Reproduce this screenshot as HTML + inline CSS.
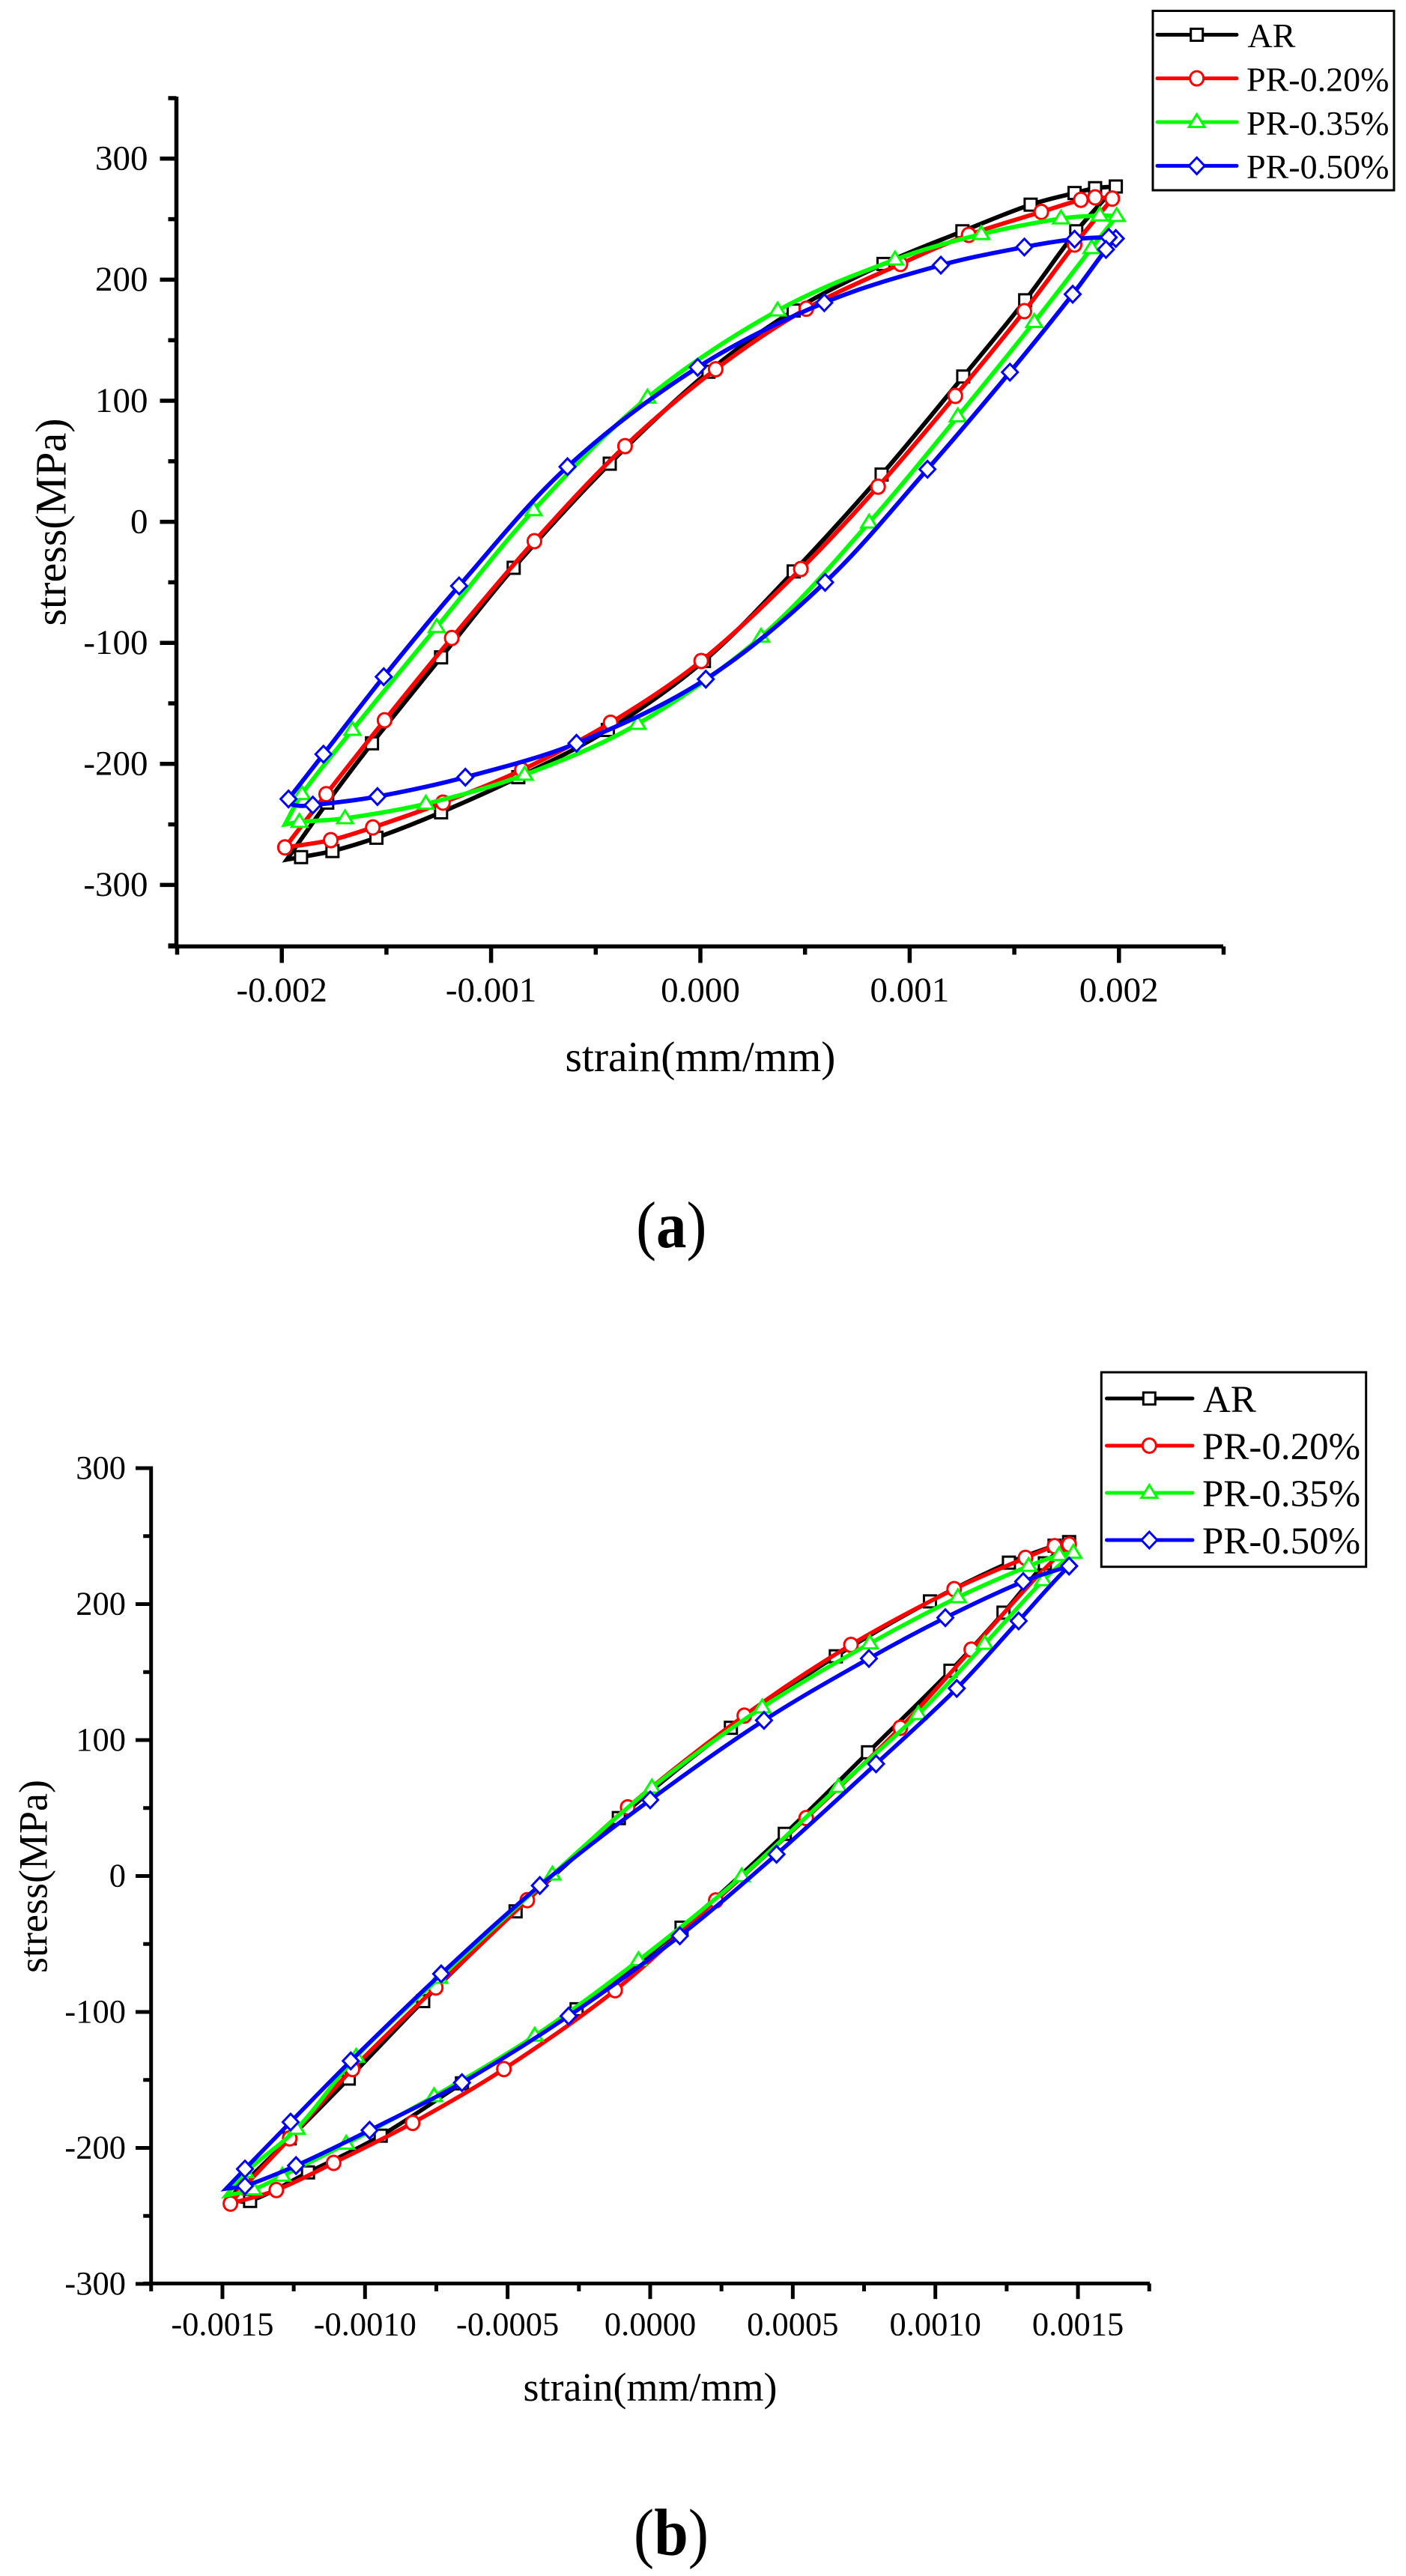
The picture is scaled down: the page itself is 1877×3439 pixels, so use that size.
<!DOCTYPE html>
<html lang="en">
<head>
<meta charset="utf-8">
<title>Stress-strain hysteresis loops</title>
<style>
html,body{margin:0;padding:0;background:#fff;}
svg{display:block;}
text{font-family:"Liberation Serif",serif;fill:#000;}
</style>
</head>
<body>
<svg id="figure" xmlns="http://www.w3.org/2000/svg" width="1877" height="3439" viewBox="0 0 1877 3439">
  <rect x="0" y="0" width="1877" height="3439" fill="#fff"/>

  <g id="plot-a">
    <text x="935" y="1430" font-size="57.5" text-anchor="middle">strain(mm/mm)</text>
    <text transform="translate(87.3,697) rotate(-90)" font-size="58" text-anchor="middle">stress(MPa)</text>
    <g id="legend-a">
      <rect x="1539" y="14.5" width="322" height="239.5" fill="#fff" stroke="#000" stroke-width="3"/>
      <text x="1665.5" y="63" font-size="46">AR</text>
      <text x="1664" y="121.5" font-size="46">PR-0.20%</text>
      <text x="1664" y="180" font-size="46">PR-0.35%</text>
      <text x="1664" y="238" font-size="46">PR-0.50%</text>
    </g>
  </g>
  <text transform="translate(896.3,1665) scale(1,1.08)" font-size="81" text-anchor="middle">(<tspan font-weight="bold">a</tspan>)</text>

  <g id="plot-b">
    <text x="868" y="3205" font-size="54" text-anchor="middle">strain(mm/mm)</text>
    <text transform="translate(62.3,2505) rotate(-90)" font-size="54" text-anchor="middle">stress(MPa)</text>
    <g id="legend-b">
      <rect x="1470.3" y="1832" width="353.4" height="259.7" fill="#fff" stroke="#000" stroke-width="3"/>
      <text x="1606" y="1885" font-size="51">AR</text>
      <text x="1605" y="1948" font-size="51">PR-0.20%</text>
      <text x="1605" y="2011" font-size="51">PR-0.35%</text>
      <text x="1605" y="2074" font-size="51">PR-0.50%</text>
    </g>
  </g>
  <text transform="translate(896,3411) scale(1,1.08)" font-size="82" text-anchor="middle">(<tspan font-weight="bold">b</tspan>)</text>
</svg>

<script>
// ---------- Chart (a) data ----------
const aXTickValues = [-0.002, -0.001, 0, 0.001, 0.002];
const aXTickLabels = ['-0.002', '-0.001', '0.000', '0.001', '0.002'];
const aXMinorValues = [-0.0025, -0.0015, -0.0005, 0.0005, 0.0015, 0.0025];
const aYTickValues = [-300, -200, -100, 0, 100, 200, 300];
const aYTickLabels = ['-300', '-200', '-100', '0', '100', '200', '300'];
const aYMinorValues = [-350, -250, -150, -50, 50, 150, 250, 350];

const aArStrain = [0.001985,0.001886,0.001788,0.001578,0.001252,0.000875,0.000446,0.000039,-0.000433,-0.000892,-0.001239,-0.001569,-0.001783,-0.001976,-0.001908,-0.001758,-0.001548,-0.001239,-0.000870,-0.000442,0.000017,0.000446,0.000866,0.001256,0.001552,0.001796,0.001985];
const aArStress = [277,275.6,271.6,262,240,213,174.5,124,48,-38,-112,-183,-232,-279,-277,-272,-261,-240,-211,-172,-115,-41,39,120,183,240,277];
const aArHidden = [13,26];

const aPr20Strain = [0.001968,0.001886,0.001818,0.001629,0.001282,0.000956,0.000506,0.000073,-0.000360,-0.000793,-0.001188,-0.001509,-0.001788,-0.001985,-0.001766,-0.001565,-0.001230,-0.000853,-0.000429,0.000004,0.000480,0.000849,0.001218,0.001548,0.001788,0.001968];
const aPr20Stress = [267,268,266,256,237,213,176,126,62.5,-16,-96,-164,-225,-269,-263,-252.5,-232,-205,-166,-115,-39,29,104,174,229,267];
const aPr20Hidden = [25];

const aPr35Strain = [0.001989,0.001908,0.001723,0.001342,0.000930,0.000369,-0.000253,-0.000797,-0.001260,-0.001663,-0.001904,-0.001985,-0.001916,-0.001698,-0.001312,-0.000840,-0.000300,0.000290,0.000806,0.001230,0.001595,0.001869,0.001989];
const aPr35Stress = [252.5,253,250.5,237.6,216.6,174.5,102.5,9.5,-87,-172,-225,-250,-248,-245,-233,-209,-167,-95,-0.7,87,165,226,252.5];
const aPr35Hidden = [11,22];

const aPr50Strain = [0.001985,0.001951,0.001788,0.001548,0.001149,0.000592,-0.000013,-0.000635,-0.001153,-0.001513,-0.001801,-0.001968,-0.001944,-0.001852,-0.001543,-0.001123,-0.000592,0.000026,0.000596,0.001085,0.001479,0.001779,0.001938,0.001985];
const aPr50Stress = [234,235,233.5,227,212,181,127.6,45.5,-53,-128,-192,-229,-234,-234,-227,-211,-183,-130,-50,43.4,123.6,188,225,234];
const aPr50Hidden = [12,23];

// ---------- Chart (b) data ----------
const bXTickValues = [-0.0015, -0.001, -0.0005, 0, 0.0005, 0.001, 0.0015];
const bXTickLabels = ['-0.0015', '-0.0010', '-0.0005', '0.0000', '0.0005', '0.0010', '0.0015'];
const bXMinorValues = [-0.00175, -0.00125, -0.00075, -0.00025, 0.00025, 0.00075, 0.00125, 0.00175];
const bYTickValues = [-300, -200, -100, 0, 100, 200, 300];
const bYTickLabels = ['-300', '-200', '-100', '0', '100', '200', '300'];
const bYMinorValues = [-250, -150, -50, 50, 150, 250];

const bArStrain = [0.001469,0.001418,0.001258,0.000981,0.000651,0.000283,-0.000110,-0.000472,-0.000796,-0.001057,-0.001264,-0.001425,-0.001480,-0.001403,-0.001200,-0.000945,-0.000660,-0.000258,0.000110,0.000472,0.000764,0.001053,0.001239,0.001384,0.001469];
const bArStress = [245.6,243,230.5,202,161.6,109,42.6,-26,-92,-149,-193,-226,-238,-239,-218,-191,-152.5,-98,-38,31,91,151,193.7,230,245.6];
const bArHidden = [12,24];

const bPr20Strain = [0.001469,0.001418,0.001316,0.001066,0.000704,0.000330,-0.000079,-0.000431,-0.000752,-0.001044,-0.001264,-0.001425,-0.001472,-0.001311,-0.001110,-0.000833,-0.000513,-0.000123,0.000230,0.000547,0.000877,0.001126,0.001342,0.001469];
const bPr20Stress = [243.8,242.6,234,211,170,118,50.5,-17.8,-82,-142,-193,-229,-241,-231,-211,-181.6,-142,-84,-18,42.6,109,166.5,217,243.8];
const bPr20Hidden = [22,23];

const bPr35Strain = [0.001484,0.001434,0.001327,0.001079,0.000770,0.000393,0.000006,-0.000343,-0.000740,-0.001031,-0.001240,-0.001420,-0.001487,-0.001392,-0.001290,-0.001066,-0.000758,-0.000405,-0.000041,0.000321,0.000660,0.000940,0.001173,0.001378,0.001484];
const bPr35Stress = [237.7,236,228,205,171,124,65,1,-75,-133,-186,-218,-235,-230.6,-220.5,-197,-162,-117.5,-62,-0.3,65.5,119,170.7,217.5,237.7];
const bPr35Hidden = [12,24];

const bPr50Strain = [0.001469,0.001308,0.001035,0.000767,0.000399,0,-0.000387,-0.000733,-0.001050,-0.001261,-0.001421,-0.001487,-0.001421,-0.001242,-0.000984,-0.000660,-0.000286,0.000104,0.000443,0.000792,0.001075,0.001292,0.001469,0.001490];
const bPr50Stress = [228,216.6,190,160,114.5,56,-7,-72,-136,-181,-215.5,-230,-228,-213,-187,-152,-103,-44,16,82.5,138,187.6,228,228];
const bPr50Hidden = [11,23];

// ---------- Drawing ----------
const SVG_NS = 'http://www.w3.org/2000/svg';

function make(parent, tag, attrs) {
  const el = document.createElementNS(SVG_NS, tag);
  for (const k in attrs) el.setAttribute(k, attrs[k]);
  parent.appendChild(el);
  return el;
}

function drawMarker(parent, kind, color, px, py, name) {
  const style = {fill: '#fff', stroke: color, 'stroke-width': 3};
  let el;
  if (kind === 'square') {
    el = make(parent, 'rect', Object.assign({x: px - 8, y: py - 8, width: 16, height: 16}, style));
  } else if (kind === 'circle') {
    el = make(parent, 'ellipse', Object.assign({cx: px, cy: py, rx: 9, ry: 9.5}, style));
  } else if (kind === 'triangle') {
    el = make(parent, 'path', Object.assign({d: 'M' + px + ' ' + (py - 10.5) + 'L' + (px + 10.5) + ' ' + (py + 6.5) + 'L' + (px - 10.5) + ' ' + (py + 6.5) + 'Z'}, style));
  } else {
    el = make(parent, 'path', Object.assign({d: 'M' + px + ' ' + (py - 11) + 'L' + (px + 10.5) + ' ' + py + 'L' + px + ' ' + (py + 11) + 'L' + (px - 10.5) + ' ' + py + 'Z'}, style));
  }
  
  
}

function splinePath(pts) {
  if (pts.length < 2) return '';
  const tangent = function (i) {
    const a = pts[Math.max(i - 1, 0)];
    const b = pts[Math.min(i + 1, pts.length - 1)];
    const dx = b[0] - a[0], dy = b[1] - a[1];
    const len = Math.hypot(dx, dy) || 1;
    return [dx / len, dy / len];
  };
  let d = '';
  for (let i = 0; i < pts.length - 1; i++) {
    const p = pts[i], q = pts[i + 1];
    const dist = Math.hypot(q[0] - p[0], q[1] - p[1]);
    const t0 = tangent(i), t1 = tangent(i + 1);
    d += 'C' + (p[0] + t0[0] * dist / 3).toFixed(1) + ' ' + (p[1] + t0[1] * dist / 3).toFixed(1) + ' ' +
      (q[0] - t1[0] * dist / 3).toFixed(1) + ' ' + (q[1] - t1[1] * dist / 3).toFixed(1) + ' ' +
      q[0].toFixed(1) + ' ' + q[1].toFixed(1);
  }
  return d;
}

function drawSeries(parent, xFn, yFn, strain, stress, hidden, color, kind, lineWidth, name) {
  const g = make(parent, 'g', {});
  
  
  const pts = strain.map(function (s, i) { return [xFn(s), yFn(stress[i])]; });
  let tip = 0;
  strain.forEach(function (s, i) { if (s < strain[tip]) tip = i; });
  const first = pts.slice(0, tip + 1);
  const second = pts.slice(tip);
  const d = 'M' + first[0][0].toFixed(1) + ' ' + first[0][1].toFixed(1) + splinePath(first) + splinePath(second);
  const line = make(g, 'path', {d: d, fill: 'none', stroke: color, 'stroke-width': lineWidth, 'stroke-linejoin': 'miter'});
  
  
  pts.forEach(function (p, i) {
    if (hidden.indexOf(i) < 0) drawMarker(g, kind, color, p[0], p[1], name + '-point');
  });
}

function drawAxes(cfg) {
  const g = make(cfg.parent, 'g', {});
  
  
  const bar = {stroke: '#000', 'stroke-width': cfg.axisWidth, fill: 'none'};
  const yAxis = make(g, 'line', Object.assign({x1: cfg.left, x2: cfg.left, y1: cfg.top, y2: cfg.bottom + cfg.axisWidth / 2}, bar));
  
  
  const xAxis = make(g, 'line', Object.assign({x1: cfg.left - cfg.minorLen, x2: cfg.right, y1: cfg.bottom, y2: cfg.bottom}, bar));
  
  

  cfg.xTicks.forEach(function (v, i) {
    const x = cfg.x(v);
    const t = make(g, 'line', Object.assign({x1: x, x2: x, y1: cfg.bottom, y2: cfg.bottom + cfg.majorLen}, bar));
    
    
    const lab = make(g, 'text', {x: x - cfg.xLabelShift, y: cfg.xLabelY, 'font-size': cfg.tickFont, 'text-anchor': 'middle'});
    lab.textContent = cfg.xLabels[i];
    
    
  });
  cfg.xMinor.forEach(function (v) {
    const x = cfg.x(v);
    const t = make(g, 'line', Object.assign({x1: x, x2: x, y1: cfg.bottom, y2: cfg.bottom + cfg.minorLen}, bar));
    
    
  });
  cfg.yTicks.forEach(function (v, i) {
    const y = cfg.y(v);
    const t = make(g, 'line', Object.assign({x1: cfg.left - cfg.majorLen, x2: cfg.left, y1: y, y2: y}, bar));
    
    
    const lab = make(g, 'text', {x: cfg.yLabelX, y: y + cfg.tickFont * 0.315, 'font-size': cfg.tickFont, 'text-anchor': 'end'});
    lab.textContent = cfg.yLabels[i];
    
    
  });
  cfg.yMinor.forEach(function (v) {
    const y = cfg.y(v);
    const t = make(g, 'line', Object.assign({x1: cfg.left - cfg.minorLen, x2: cfg.left, y1: y, y2: y}, bar));
    
    
  });
}

function drawLegendKeys(parent, x1, x2, xm, rows, width, id) {
  const colors = ['#000', '#f00', '#0f0', '#00f'];
  const kinds = ['square', 'circle', 'triangle', 'diamond'];
  const names = ['ar', 'pr020', 'pr035', 'pr050'];
  rows.forEach(function (y, i) {
    const l = make(parent, 'line', {x1: x1, x2: x2, y1: y, y2: y, stroke: colors[i], 'stroke-width': width, 'stroke-linecap': 'round'});
    
    
    drawMarker(parent, kinds[i], colors[i], xm, y, 'legend-marker-' + names[i] + '-' + id);
  });
}

// Axis functions, chart (a)
function xA(v) { return 935 + v * 279400; }
function yA(v) { return 696.6 - v * 1.616; }
// Axis functions, chart (b)
function xB(v) { return 868 + v * 380700; }
function yB(v) { return 2504.5 - v * 1.815; }

const plotA = document.getElementById('plot-a');
const plotB = document.getElementById('plot-b');

drawAxes({parent: plotA, id: 'a', x: xA, y: yA, left: 235.5, right: 1633, top: 129, bottom: 1263.5, axisWidth: 5.5, majorLen: 22, minorLen: 11,
  xTicks: aXTickValues, xLabels: aXTickLabels, xMinor: aXMinorValues, yTicks: aYTickValues, yLabels: aYTickLabels, yMinor: aYMinorValues,
  tickFont: 47, xLabelY: 1337, xLabelShift: 0, yLabelX: 197.5});

drawSeries(plotA, xA, yA, aArStrain, aArStress, aArHidden, '#000', 'square', 5.8, 'series-ar-a');
drawSeries(plotA, xA, yA, aPr20Strain, aPr20Stress, aPr20Hidden, '#f00', 'circle', 5.8, 'series-pr020-a');
drawSeries(plotA, xA, yA, aPr35Strain, aPr35Stress, aPr35Hidden, '#0f0', 'triangle', 5.8, 'series-pr035-a');
drawSeries(plotA, xA, yA, aPr50Strain, aPr50Stress, aPr50Hidden, '#00f', 'diamond', 5.8, 'series-pr050-a');
drawLegendKeys(document.getElementById('legend-a'), 1545, 1651, 1597.7, [46.4, 104.6, 163, 221.4], 5, 'a');

drawAxes({parent: plotB, id: 'b', x: xB, y: yB, left: 201.7, right: 1535, top: 1957.5, bottom: 3048.5, axisWidth: 5, majorLen: 20.7, minorLen: 10.5,
  xTicks: bXTickValues, xLabels: bXTickLabels, xMinor: bXMinorValues, yTicks: bYTickValues, yLabels: bYTickLabels, yMinor: bYMinorValues,
  tickFont: 44.5, xLabelY: 3117.5, xLabelShift: 0, yLabelX: 168});

drawSeries(plotB, xB, yB, bArStrain, bArStress, bArHidden, '#000', 'square', 5.5, 'series-ar-b');
drawSeries(plotB, xB, yB, bPr20Strain, bPr20Stress, bPr20Hidden, '#f00', 'circle', 5.5, 'series-pr020-b');
drawSeries(plotB, xB, yB, bPr35Strain, bPr35Stress, bPr35Hidden, '#0f0', 'triangle', 5.5, 'series-pr035-b');
drawSeries(plotB, xB, yB, bPr50Strain, bPr50Stress, bPr50Hidden, '#00f', 'diamond', 5.5, 'series-pr050-b');
drawLegendKeys(document.getElementById('legend-b'), 1477.5, 1592, 1534.3, [1867, 1930, 1993, 2056], 5, 'b');
</script>
</body>
</html>
